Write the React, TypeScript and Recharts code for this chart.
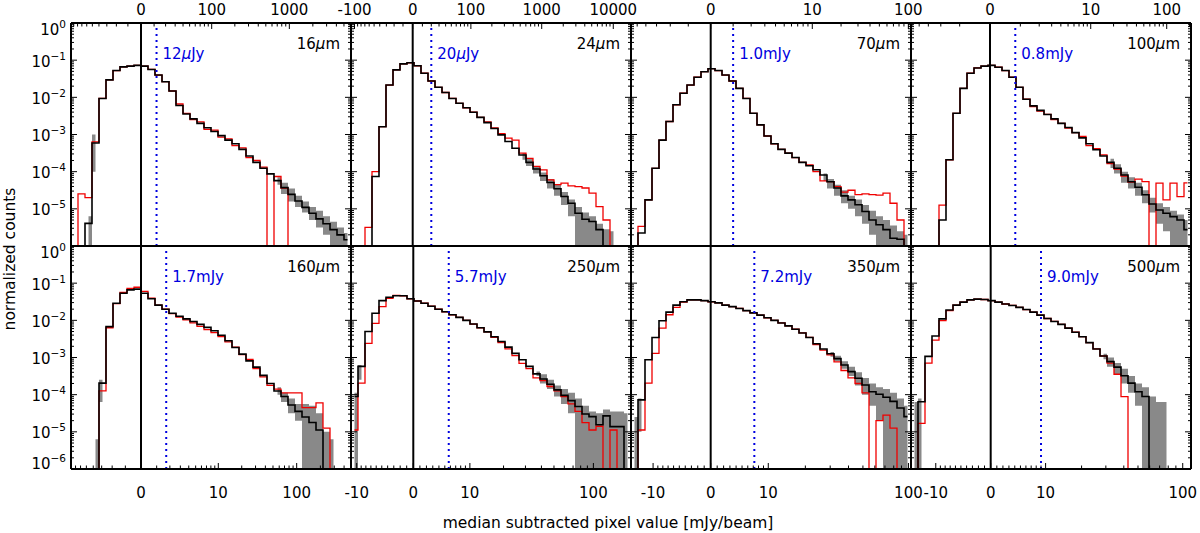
import { ComposedChart, Line, Area, XAxis, YAxis, ReferenceLine } from 'recharts';

// histogram heights are log10(normalized counts), one per bin
// bins are evenly spaced in asinh(x/a) across each panel; Z marks an empty bin
const Z = -9;
const NBIN = 40;

const blk16 = [Z, Z, -5.39, -3.23, -2.03, -1.53, -1.28, -1.18, -1.16, -1.14, -1.16, -1.25, -1.40, -1.58, -1.83, -2.22, -2.45, -2.58, -2.70, -2.82, -2.92, -3.03, -3.15, -3.25, -3.40, -3.58, -3.75, -3.91, -4.06, -4.24, -4.43, -4.61, -4.79, -4.96, -5.12, -5.27, -5.40, -5.56, -5.70, -5.83];
const red16 = [Z, -4.6, -4.7, -3.2, -2.03, -1.53, -1.28, -1.18, -1.16, -1.14, -1.16, -1.25, -1.40, -1.58, -1.83, -2.18, -2.43, -2.60, -2.66, -2.86, -2.88, -3.07, -3.12, -3.30, -3.36, -3.62, -3.70, -3.88, Z, -4.13, -4.44, Z, Z, Z, Z, Z, Z, Z, Z, Z];
const gry16 = [[2, -6.2, -5.2], [3, -4.0, -3.0], [29, -4.35, -4.15], [30, -4.6, -4.3], [31, -4.8, -4.45], [32, -4.95, -4.65], [33, -5.1, -4.8], [34, -5.3, -4.95], [35, -5.5, -5.05], [36, -5.7, -5.2], [37, -6.0, -5.35], [38, -6.2, -5.5], [39, -6.2, -5.65]];

const blk24 = [Z, Z, Z, -4.13, -2.79, -1.67, -1.26, -1.10, -1.07, -1.15, -1.35, -1.56, -1.73, -1.87, -2.03, -2.16, -2.28, -2.40, -2.54, -2.68, -2.84, -3.01, -3.19, -3.37, -3.55, -3.75, -3.93, -4.11, -4.29, -4.46, -4.67, -4.85, -5.12, -5.28, -5.34, -5.56, Z, Z, Z, Z];
const red24 = [Z, Z, -5.5, -4.0, -2.79, -1.67, -1.26, -1.10, -1.07, -1.15, -1.35, -1.56, -1.73, -1.87, -2.03, -2.16, -2.28, -2.40, -2.54, -2.66, -2.82, -2.98, -3.10, -3.15, -3.50, -3.64, -3.86, -3.95, -4.22, -4.35, -4.31, -4.38, -4.40, -4.44, -4.58, -4.94, -5.30, Z, Z, Z];
const gry24 = [[24, -3.68, -3.5], [25, -3.85, -3.66], [26, -4.05, -3.85], [27, -4.25, -4.02], [28, -4.45, -4.2], [29, -4.65, -4.35], [30, -4.9, -4.55], [31, -5.2, -4.75], [32, -6.2, -4.95], [33, -6.2, -5.1], [34, -6.2, -5.2], [35, -6.2, -5.4], [36, -6.2, -5.55], [37, -6.2, -5.6]];

const blk70 = [Z, -5.65, -4.76, -3.91, -3.15, -2.65, -2.20, -1.89, -1.67, -1.46, -1.31, -1.23, -1.28, -1.40, -1.56, -1.76, -2.03, -2.43, -2.74, -3.04, -3.25, -3.40, -3.50, -3.62, -3.75, -3.84, -3.95, -4.09, -4.27, -4.44, -4.65, -4.76, -4.89, -5.07, -5.30, -5.43, -5.56, -5.79, -5.82, Z];
const red70 = [Z, -5.47, -4.76, -3.91, -3.15, -2.65, -2.20, -1.89, -1.67, -1.46, -1.31, -1.23, -1.28, -1.40, -1.56, -1.76, -2.03, -2.43, -2.74, -3.04, -3.25, -3.40, -3.50, -3.62, -3.75, -3.82, -4.00, -4.25, -4.27, -4.40, -4.55, -4.50, -4.62, -4.60, -4.62, -4.63, -4.58, -4.85, -5.30, Z];
const gry70 = [[27, -4.25, -4.05], [28, -4.45, -4.2], [29, -4.65, -4.35], [30, -4.85, -4.5], [31, -5.0, -4.65], [32, -5.2, -4.75], [33, -5.4, -4.9], [34, -5.7, -5.05], [35, -6.2, -5.2], [36, -6.2, -5.3], [37, -6.2, -5.45], [38, -6.2, -5.6], [39, -6.2, -5.7]];

const blk100 = [Z, Z, Z, Z, -5.30, -3.68, -2.43, -1.76, -1.35, -1.21, -1.16, -1.14, -1.19, -1.28, -1.46, -1.73, -2.05, -2.23, -2.35, -2.46, -2.58, -2.70, -2.81, -2.95, -3.09, -3.25, -3.41, -3.58, -3.75, -3.91, -4.09, -4.27, -4.42, -4.62, -4.87, -5.03, -5.12, -5.21, -5.30, -5.56];
const red100 = [Z, Z, Z, Z, -4.9, -3.68, -2.43, -1.76, -1.35, -1.21, -1.16, -1.14, -1.19, -1.28, -1.46, -1.73, -2.05, -2.25, -2.37, -2.46, -2.60, -2.70, -2.83, -2.95, -3.05, -3.30, -3.38, -3.55, -3.78, -3.93, -4.12, -4.28, -4.20, -4.27, Z, -4.31, -4.76, -4.31, -4.67, -4.30];
const gry100 = [[28, -3.9, -3.65], [29, -4.05, -3.8], [30, -4.3, -4.0], [31, -4.45, -4.15], [32, -4.65, -4.3], [33, -4.85, -4.5], [34, -5.1, -4.7], [35, -5.4, -4.85], [36, -5.6, -4.95], [37, -6.2, -5.05], [38, -6.2, -5.15], [39, -6.2, -5.3]];

const blk160 = [Z, Z, Z, Z, -3.69, -2.17, -1.54, -1.27, -1.18, -1.16, -1.27, -1.42, -1.59, -1.70, -1.81, -1.89, -1.96, -2.03, -2.11, -2.19, -2.28, -2.40, -2.55, -2.73, -2.91, -3.09, -3.26, -3.48, -3.70, -3.90, -4.05, -4.28, -4.45, -4.60, -4.75, -4.95, Z, Z, Z, Z];
const red160 = [Z, Z, Z, Z, -3.9, -2.2, -1.55, -1.25, -1.14, -1.11, -1.22, -1.40, -1.59, -1.70, -1.82, -1.91, -1.99, -2.07, -2.16, -2.25, -2.33, -2.44, -2.58, -2.72, -2.92, -3.05, -3.30, -3.52, -3.75, -3.85, -3.95, -3.95, -3.95, -4.35, -4.35, -4.22, -4.90, Z, Z, Z];
const gry160 = [[3, -6.2, -5.2], [4, -4.2, -3.6], [29, -4.0, -3.8], [30, -4.2, -3.95], [31, -4.5, -4.1], [32, -4.7, -4.25], [33, -6.2, -4.25], [34, -6.2, -4.3], [35, -6.2, -4.5], [36, -6.2, -5.0], [37, -6.2, -5.2]];

const blk250 = [-4.05, -3.24, -2.30, -1.81, -1.47, -1.38, -1.34, -1.34, -1.42, -1.48, -1.54, -1.62, -1.70, -1.77, -1.85, -1.92, -2.00, -2.10, -2.20, -2.31, -2.44, -2.57, -2.72, -2.89, -3.06, -3.24, -3.44, -3.58, -3.72, -3.87, -4.02, -4.16, -4.32, -4.52, -4.59, -4.81, -4.57, -4.86, -4.86, Z];
const red250 = [-4.95, -3.69, -2.62, -2.08, -1.63, -1.41, -1.33, -1.34, -1.42, -1.48, -1.54, -1.62, -1.70, -1.77, -1.85, -1.92, -2.00, -2.10, -2.20, -2.31, -2.46, -2.60, -2.77, -2.95, -3.16, -3.30, -3.55, -3.62, -3.78, -3.90, -4.05, -4.25, -4.45, -4.75, -4.95, -4.85, Z, -4.95, Z, Z];
const gry250 = [[0, -6.2, -3.95], [1, -3.6, -3.2], [26, -3.5, -3.38], [27, -3.7, -3.45], [28, -3.85, -3.6], [29, -4.05, -3.75], [30, -4.25, -3.85], [31, -4.5, -3.95], [32, -6.2, -4.1], [33, -6.2, -4.3], [34, -6.2, -4.45], [35, -6.2, -4.5], [36, -6.2, -4.4], [37, -6.2, -4.45], [38, -6.2, -4.45], [39, -6.2, -4.5]];

const blk350 = [Z, -4.14, -3.06, -2.46, -2.01, -1.78, -1.59, -1.50, -1.45, -1.45, -1.47, -1.50, -1.53, -1.59, -1.63, -1.68, -1.74, -1.80, -1.86, -1.93, -2.00, -2.07, -2.15, -2.24, -2.34, -2.46, -2.63, -2.77, -2.90, -3.03, -3.20, -3.38, -3.56, -3.74, -3.92, -3.99, -4.07, -4.18, -4.36, -4.59];
const red350 = [Z, -4.95, -3.69, -2.89, -2.21, -1.85, -1.65, -1.51, -1.45, -1.45, -1.47, -1.50, -1.53, -1.59, -1.63, -1.68, -1.74, -1.80, -1.86, -1.93, -2.00, -2.07, -2.15, -2.24, -2.34, -2.46, -2.65, -2.80, -2.93, -3.12, -3.35, -3.55, -3.70, -3.95, Z, -4.70, -4.55, -4.90, Z, Z];
const gry350 = [[0, -6.2, -4.6], [1, -5.0, -4.1], [28, -2.98, -2.85], [29, -3.1, -2.95], [30, -3.3, -3.1], [31, -3.5, -3.25], [32, -3.75, -3.4], [33, -4.0, -3.55], [34, -4.3, -3.7], [35, -4.7, -3.8], [36, -6.2, -3.85], [37, -6.2, -3.95], [38, -6.2, -4.1], [39, -6.2, -4.3]];

const blk500 = [Z, -4.19, -2.97, -2.42, -1.96, -1.72, -1.59, -1.51, -1.45, -1.43, -1.44, -1.47, -1.51, -1.56, -1.60, -1.65, -1.71, -1.78, -1.86, -1.95, -2.03, -2.11, -2.21, -2.32, -2.44, -2.60, -2.77, -2.96, -3.11, -3.26, -3.49, -3.69, -3.92, -4.05, Z, Z, Z, Z, Z, Z];
const red500 = [Z, -4.77, -3.15, -2.53, -2.01, -1.74, -1.59, -1.51, -1.45, -1.43, -1.44, -1.47, -1.51, -1.56, -1.60, -1.65, -1.71, -1.78, -1.86, -1.95, -2.03, -2.11, -2.21, -2.32, -2.44, -2.60, -2.77, -2.96, -3.15, -3.45, -4.05, Z, Z, Z, Z, Z, Z, Z, Z, Z];
const gry500 = [[0, -6.2, -4.2], [1, -6.2, -4.1], [27, -3.05, -2.9], [28, -3.25, -3.0], [29, -3.45, -3.15], [30, -3.7, -3.3], [31, -3.95, -3.5], [32, -4.3, -3.7], [33, -6.2, -3.8], [34, -6.2, -4.05], [35, -6.2, -4.2], [36, -6.2, -4.2]];

const bands = ['16', '24', '70', '100', '160', '250', '350', '500'];
const limits = [12, 20, 1.0, 0.8, 1.7, 5.7, 7.2, 9.0];
const limitText = ['12μJy', '20μJy', '1.0mJy', '0.8mJy', '1.7mJy', '5.7mJy', '7.2mJy', '9.0mJy'];
const tickLabels = [[0, 100, 1000], [-100, 0, 100, 1000, 10000], [0, 10, 100], [0, 10, 100], [0, 10, 100], [-10, 0, 10, 100], [-10, 0, 10, 100], [-10, 0, 10, 100]];
const blacks = [blk16, blk24, blk70, blk100, blk160, blk250, blk350, blk500];
const reds = [red16, red24, red70, red100, red160, red250, red350, red500];
const grays = [gry16, gry24, gry70, gry100, gry160, gry250, gry350, gry500];

// asinh stretch per panel: softening a, and axis limits in asinh units
const soft = [25.3, 31.5, 1.78, 0.95, 2.11, 8.65, 10.2, 10.6];
const uLo = [-2.062, -1.985, -1.904, -2.392, -2.047, -1.087, -1.2, -1.22];
const uHi = [6.187, 7.024, 4.785, 6.085, 6.14, 3.799, 3.017, 3.067];
const minorFrom = [10, 10, 1, 1, 1, 1, 1, 1];

const PW = 280;
const PH = 223;
const LEFT0 = 71;
const TOPS = [23, 246];
const FONT = '"DejaVu Sans", sans-serif';
const AX = { stroke: '#000', strokeWidth: 2 };

const key = (u: number) => u.toFixed(5);

const Y_TICKS: number[] = [];
for (let e = -6; e <= 0; e++) {
  Y_TICKS.push(Number((10 ** e).toPrecision(3)));
  if (e < 0) for (let m = 2; m <= 9; m++) Y_TICKS.push(Number((m * 10 ** e).toPrecision(3)));
}

function buildRows(i: number) {
  const du = (uHi[i] - uLo[i]) / NBIN;
  const g = new Map(grays[i].map(([b, lo, hi]) => [b, [10 ** lo, 10 ** hi]]));
  return blacks[i].map((b, j) => ({
    u: uLo[i] + (j + 0.5) * du,
    black: 10 ** b,
    red: 10 ** reds[i][j],
    band: g.get(j) ?? null,
  }));
}

function xTicks(i: number) {
  const a = soft[i];
  const lo = a * Math.sinh(uLo[i]);
  const hi = a * Math.sinh(uHi[i]);
  const out: number[] = [0];
  for (let d = minorFrom[i]; d <= 1e5; d *= 10)
    for (let m = 1; m <= 9; m++)
      for (const s of [1, -1]) {
        const v = s * m * d;
        if (v > lo && v < hi) out.push(Math.asinh(v / a));
      }
  return out;
}

function mu(s: string) {
  const parts = s.split('μ');
  if (parts.length === 1) return s;
  return [
    <tspan key="a">{parts[0]}</tspan>,
    <tspan key="b" fontStyle="italic">μ</tspan>,
    <tspan key="c">{parts[1]}</tspan>,
  ];
}

function makeXTick(dir: number, labels: Map<string, string>) {
  return (props: any) => {
    const { x, y, payload } = props;
    const lab = labels.get(key(payload.value));
    const len = lab !== undefined ? 6 : 3.5;
    return (
      <g>
        <line x1={x} x2={x} y1={y} y2={y + dir * len} stroke="#000" strokeWidth={1} />
        {lab !== undefined && (
          <text x={x} y={dir > 0 ? y - 8.5 : y + 29} textAnchor="middle" fontSize={15} fill="#000" fontFamily={FONT}>
            {lab}
          </text>
        )}
      </g>
    );
  };
}

function makeYTick(dir: number, showLabels: boolean, bottomRow: boolean) {
  return (props: any) => {
    const { x, y, payload } = props;
    const e = Math.log10(payload.value);
    const major = Math.abs(e - Math.round(e)) < 1e-6;
    const p = Math.round(e);
    const len = major ? 6 : 3;
    const showLab = showLabels && major && (p > -6 || bottomRow);
    const dy = p === 0 ? 12 : p === -6 ? 0 : 6.5;
    return (
      <g>
        <line x1={x} x2={x + dir * len} y1={y} y2={y} stroke="#000" strokeWidth={1} />
        {showLab && (
          <text x={x - 5} y={y + dy} textAnchor="end" fontSize={15} fill="#000" fontFamily={FONT}>
            10
            <tspan dy={-7} fontSize={10.5}>{p === 0 ? '0' : '−' + -p}</tspan>
          </text>
        )}
      </g>
    );
  };
}

function Panel({ i }: { i: number }) {
  const row = i < 4 ? 0 : 1;
  const col = i % 4;
  const bottomRow = row === 1;
  const rows = buildRows(i);
  const ticks = xTicks(i);
  const labels = new Map(tickLabels[i].map((v) => [key(Math.asinh(v / soft[i])), String(v)]));
  const limU = Math.asinh(limits[i] / soft[i]);
  const domain = [uLo[i], uHi[i]];
  // room around each plot box for its tick labels; 1px axes sit on the frame
  const m = { top: 24, right: col === 3 ? 8 : 22, bottom: 34, left: 44 };

  return (
    <div style={{ position: 'absolute', left: LEFT0 + col * PW - 1 - m.left, top: TOPS[row] - 1 - m.top }}>
      <ComposedChart
        width={PW + 2 + m.left + m.right}
        height={PH + 2 + m.top + m.bottom}
        data={rows}
        margin={m}
      >
        <XAxis
          xAxisId="b"
          orientation="bottom"
          type="number"
          dataKey="u"
          domain={domain}
          allowDataOverflow
          height={1}
          ticks={ticks}
          interval={0}
          tickSize={0}
          tickMargin={0}
          tickLine={false}
          axisLine={AX}
          tick={bottomRow ? makeXTick(-1, labels) : () => <g />}
        />
        <XAxis
          xAxisId="t"
          orientation="top"
          type="number"
          dataKey="u"
          domain={domain}
          allowDataOverflow
          height={1}
          ticks={ticks}
          interval={0}
          tickSize={0}
          tickMargin={0}
          tickLine={false}
          axisLine={AX}
          tick={bottomRow ? () => <g /> : makeXTick(1, labels)}
        />
        <YAxis
          yAxisId="l"
          orientation="left"
          type="number"
          scale="log"
          domain={[1e-6, 1]}
          allowDataOverflow
          width={1}
          ticks={Y_TICKS}
          interval={0}
          tickSize={0}
          tickMargin={0}
          tickLine={false}
          axisLine={AX}
          tick={makeYTick(1, col === 0, bottomRow)}
        />
        <YAxis
          yAxisId="r"
          orientation="right"
          type="number"
          scale="log"
          domain={[1e-6, 1]}
          allowDataOverflow
          width={1}
          ticks={Y_TICKS}
          interval={0}
          tickSize={0}
          tickMargin={0}
          tickLine={false}
          axisLine={AX}
          tick={makeYTick(-1, false, bottomRow)}
        />
        <Area
          xAxisId="t"
          yAxisId="r"
          dataKey="band"
          type="step"
          stroke="none"
          fill="#898989"
          fillOpacity={1}
          isAnimationActive={false}
        />
        <Line
          xAxisId="b"
          yAxisId="l"
          dataKey="red"
          type="step"
          stroke="#f00000"
          strokeWidth={1.3}
          dot={false}
          activeDot={false}
          isAnimationActive={false}
        />
        <Line
          xAxisId="b"
          yAxisId="l"
          dataKey="black"
          type="step"
          stroke="#000"
          strokeWidth={1.6}
          dot={false}
          activeDot={false}
          isAnimationActive={false}
        />
        <ReferenceLine xAxisId="b" yAxisId="l" x={0} stroke="#000" strokeWidth={2} />
        <ReferenceLine
          xAxisId="b"
          yAxisId="l"
          x={limU}
          stroke="#0000e0"
          strokeWidth={2}
          strokeDasharray="2 4"
          label={(lp: any) => {
            const vb = lp.viewBox || { x: 0, y: 0 };
            return (
              <text x={vb.x + 6} y={vb.y + 36} fill="#0000e0" fontSize={15} fontFamily={FONT}>
                {mu(limitText[i])}
              </text>
            );
          }}
        />
      </ComposedChart>
    </div>
  );
}

export default function App() {
  return (
    <div style={{ position: 'absolute', left: 0, top: 0, width: 1200, height: 533, background: '#fff', fontFamily: FONT }}>
      {bands.map((_, i) => (
        <Panel key={i} i={i} />
      ))}
      <svg width={1200} height={533} style={{ position: 'absolute', left: 0, top: 0, pointerEvents: 'none' }}>
        {bands.map((b, i) => (
          <text
            key={b}
            x={LEFT0 + ((i % 4) + 1) * PW - 11}
            y={TOPS[i < 4 ? 0 : 1] + 25.5}
            textAnchor="end"
            fontSize={15}
            fontFamily={FONT}
            fill="#000"
          >
            {mu(b + 'μm')}
          </text>
        ))}
        <text x={608} y={528} textAnchor="middle" fontSize={15.5} fontFamily={FONT} fill="#000">
          median subtracted pixel value [mJy/beam]
        </text>
        <text x={15} y={259} transform="rotate(-90 15 259)" textAnchor="middle" fontSize={15.5} fontFamily={FONT} fill="#000">
          normalized counts
        </text>
      </svg>
    </div>
  );
}
